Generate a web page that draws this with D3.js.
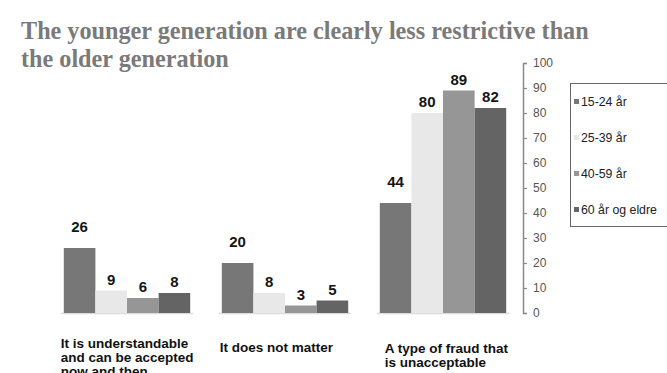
<!DOCTYPE html>
<html>
<head>
<meta charset="utf-8">
<script src="https://cdn.jsdelivr.net/npm/d3@7/dist/d3.min.js"></script>
<style>
  html, body { margin: 0; padding: 0; background: #ffffff; }
  svg { display: block; }
</style>
</head>
<body>
<svg id="chart" width="667" height="373"></svg>
<script>
// Attitudes toward fraud by age group (percent)
const categories = [
  "It is understandable and can be accepted now and then",
  "It does not matter",
  "A type of fraud that is unacceptable"
];
const categoryLines = [
  ["It is understandable", "and can be accepted", "now and then"],
  ["It does not matter"],
  ["A type of fraud that", "is unacceptable"]
];
const seriesNames = ["15-24 år", "25-39 år", "40-59 år", "60 år og eldre"];
const values15to24 = [26, 20, 44];
const values25to39 = [9, 8, 80];
const values40to59 = [6, 3, 89];
const values60plus = [8, 5, 82];
const yTicks = [0, 10, 20, 30, 40, 50, 60, 70, 80, 90, 100];
const titleLines = [
  "The younger generation are clearly less restrictive than",
  "the older generation"
];

const seriesValues = [values15to24, values25to39, values40to59, values60plus];
const colors = ["#777777", "#e8e8e8", "#969696", "#646464"];

const svg = d3.select("#chart");

// Title
const title = svg.append("g")
  .attr("font-family", "'Liberation Serif', serif")
  .attr("font-weight", "bold")
  .attr("font-size", 24.2)
  .attr("fill", "#7a7a7a");
titleLines.forEach((t, i) => {
  title.append("text")
    .attr("x", 21)
    .attr("y", 38.5 + i * 28)
    .text(t);
});

// Scales
const x = d3.scaleBand().domain(categories).range([48, 522])
  .paddingInner(0.2).paddingOuter(0.1);
const xs = d3.scaleBand().domain(seriesNames).range([0, x.bandwidth()]).padding(0);
const y = d3.scaleLinear().domain([0, 100]).range([313, 63]);

// Baselines under each group
svg.append("g").selectAll("line")
  .data(categories)
  .join("line")
  .attr("x1", d => x(d) - 3)
  .attr("x2", d => x(d) + x.bandwidth() + 3)
  .attr("y1", y(0) + 0.5)
  .attr("y2", y(0) + 0.5)
  .attr("stroke", "#dcdcdc")
  .attr("stroke-width", 1.5);

// Bars
const groups = svg.append("g").selectAll("g")
  .data(seriesNames)
  .join("g")
  .attr("fill", (d, i) => colors[i]);

groups.selectAll("rect")
  .data((s, si) => categories.map((c, ci) => ({ c, s, si, v: seriesValues[si][ci] })))
  .join("rect")
  .attr("x", d => x(d.c) + xs(d.s))
  .attr("width", xs.bandwidth())
  .attr("y", d => y(d.v))
  .attr("height", d => y(0) - y(d.v));

// Value labels
const labelGap = [16, 6, 6, 6];
groups.selectAll("text")
  .data((s, si) => categories.map((c, ci) => ({ c, s, si, v: seriesValues[si][ci] })))
  .join("text")
  .attr("x", d => x(d.c) + xs(d.s) + xs.bandwidth() / 2)
  .attr("y", d => y(d.v) - labelGap[d.si])
  .attr("text-anchor", "middle")
  .attr("font-family", "'Liberation Sans', Arial, sans-serif")
  .attr("font-weight", "bold")
  .attr("font-size", 15)
  .attr("fill", "#151515")
  .text(d => d.v);

// Category labels
const catOffsetX = [-3, -2, 5];
const catBaseY = [348, 352, 353];
const catG = svg.append("g")
  .attr("font-family", "'Liberation Sans', Arial, sans-serif")
  .attr("font-weight", "bold")
  .attr("font-size", 13.5)
  .attr("fill", "#111");
categories.forEach((c, i) => {
  const t = catG.append("text")
    .attr("x", x(c) + catOffsetX[i])
    .attr("y", catBaseY[i]);
  categoryLines[i].forEach((line, j) => {
    t.append("tspan")
      .attr("x", x(c) + catOffsetX[i])
      .attr("dy", j === 0 ? 0 : 14)
      .text(line);
  });
});

// Right value axis
const axis = svg.append("g")
  .attr("transform", "translate(523,0)")
  .call(d3.axisRight(y).tickValues(yTicks).tickSize(4).tickPadding(6));
axis.select(".domain").attr("stroke", "#8a8a8a").attr("stroke-width", 1.5);
axis.selectAll(".tick line").attr("stroke", "#8a8a8a").attr("stroke-width", 1.2);
axis.selectAll(".tick text")
  .attr("font-family", "'Liberation Sans', Arial, sans-serif")
  .attr("font-size", 12)
  .attr("fill", "#555");

// Legend
const legend = svg.append("g");
legend.append("rect")
  .attr("x", 570.5).attr("y", 83.5)
  .attr("width", 120).attr("height", 143)
  .attr("fill", "none")
  .attr("stroke", "#666")
  .attr("stroke-width", 1);
const legendY = d3.scalePoint().domain(seriesNames).range([102, 210]);
const items = legend.selectAll("g.item")
  .data(seriesNames)
  .join("g")
  .attr("class", "item")
  .attr("transform", d => `translate(574,${legendY(d)})`);
items.append("rect")
  .attr("x", 0).attr("y", -3)
  .attr("width", 5).attr("height", 5)
  .attr("fill", (d, i) => colors[i]);
items.append("text")
  .attr("x", 7)
  .attr("y", 0)
  .attr("dy", "0.35em")
  .attr("font-family", "'Liberation Sans', Arial, sans-serif")
  .attr("font-size", 12.3)
  .attr("fill", "#222")
  .text(d => d);
</script>
</body>
</html>
